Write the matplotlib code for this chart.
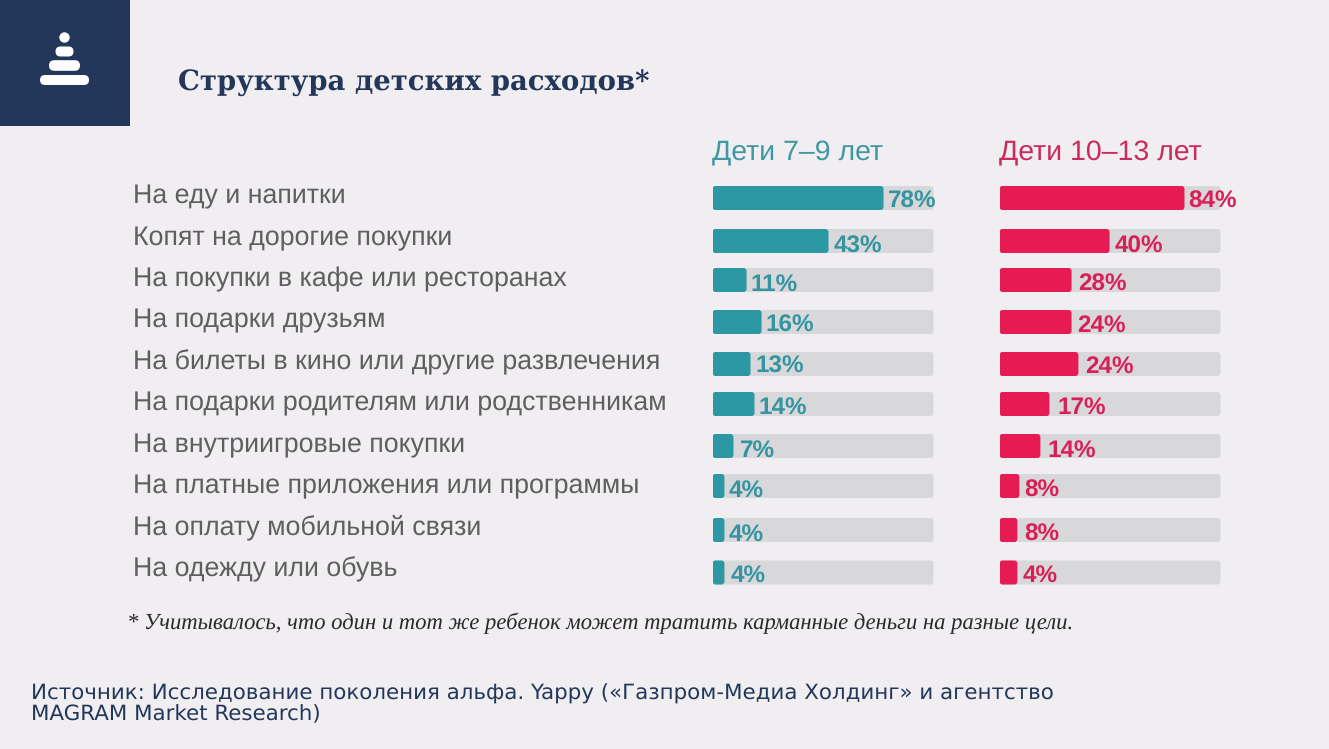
import matplotlib
matplotlib.use('Agg')
import matplotlib.pyplot as plt
from matplotlib.patches import FancyBboxPatch, Rectangle, Circle

plt.rcParams['text.hinting'] = 'no_hinting'

# Data
categories = ['На еду и напитки', 'Копят на дорогие покупки', 'На покупки в кафе или ресторанах',
              'На подарки друзьям', 'На билеты в кино или другие развлечения',
              'На подарки родителям или родственникам', 'На внутриигровые покупки',
              'На платные приложения или программы', 'На оплату мобильной связи', 'На одежду или обувь']
younger_labels = [78, 43, 11, 16, 13, 14, 7, 4, 4, 4]
older_labels = [84, 40, 28, 24, 24, 17, 14, 8, 8, 4]
# the drawn bars are not to scale with the labels, so their lengths (share of the grey track) are separate
younger_fill = [77.4, 52.5, 15.4, 22.2, 17.2, 19.0, 9.5, 5.4, 5.4, 5.4]
older_fill = [83.7, 49.8, 32.6, 32.6, 35.7, 22.6, 18.5, 9.0, 8.1, 8.1]

W, H = 1329, 749
BG = '#f0eef1'
NAVY = '#22375a'
TEAL = '#2b98a3'
RED = '#e61b54'
TRACK = '#d8d8da'
GREY = '#5f5f5f'

bar_y = [198, 241, 280, 322, 364, 404, 446, 486, 530, 572.5]
label_y = [196, 238, 279.5, 320.5, 362.5, 403.5, 445.5, 486.5, 527.5, 569.5]
value_y = [201.5, 246.5, 284.5, 326, 367, 408, 450.5, 490.5, 534.5, 576]
# pixel gaps between bar end and its label, they vary in the original slide
younger_gap = [4, 5, 4, 4, 5, 4, 6, 4, 4, 6]
older_gap = [4, 5, 7, 6, 7, 8, 7, 5, 7, 5]
BAR_H = 24

fig = plt.figure(figsize=(W / 100, H / 100), dpi=100, facecolor=BG)

# page axes in pixel coordinates for the header and text blocks
page = fig.add_axes([0, 0, 1, 1])
page.set_xlim(0, W)
page.set_ylim(H, 0)
page.axis('off')

page.add_patch(Rectangle((0, 0), 130, 126, color=NAVY, lw=0))
page.add_patch(Circle((64.5, 37.5), 5.2, color='white', lw=0))
for half, cy, t in [(9, 51.5, 5), (15.5, 65.5, 5.3), (24.5, 80, 5)]:
    page.add_patch(FancyBboxPatch((64.5 - half, cy - t), 2 * half, 2 * t,
                                  boxstyle=f'round,pad=0,rounding_size={t}', color='white', lw=0))

page.text(178, 83, 'Структура детских расходов*', family='DejaVu Serif', weight='bold',
          fontsize=19.8, color=NAVY, va='center')

for name, y in zip(categories, label_y):
    page.text(133, y, name, family='Liberation Sans', fontsize=19.3, color=GREY, va='center')

page.text(127, 623, '* Учитывалось, что один и тот же ребенок может тратить карманные деньги на разные цели.',
          family='Liberation Serif', style='italic', fontsize=16.3, color='#2a2a2a', va='center')
page.text(31, 694, 'Источник: Исследование поколения альфа. Yappy («Газпром-Медиа Холдинг» и агентство',
          family='DejaVu Sans', fontsize=15.36, color=NAVY, va='center')
page.text(31, 714, 'MAGRAM Market Research)', family='DejaVu Sans', fontsize=15.36, color=NAVY, va='center')


def draw_column(x0, title, labels, fill, gaps, color, text_color, title_color):
    # x runs 0-100 along the grey track, y stays in page pixels
    ax = fig.add_axes([x0 / W, 0, 221 / W, 1])
    ax.set_xlim(0, 100)
    ax.set_ylim(H, 0)
    ax.axis('off')
    ax.patch.set_alpha(0)
    scale = 221 / 100
    r = 3 / scale
    for y, lab, f, vy, gap in zip(bar_y, labels, fill, value_y, gaps):
        for length, c in [(100, TRACK), (f, color)]:
            ax.add_patch(FancyBboxPatch((r, y - BAR_H / 2 + r * scale), length - 2 * r, BAR_H - 2 * r * scale,
                                        boxstyle=f'round,pad={r},rounding_size={r}', mutation_aspect=scale,
                                        color=c, lw=0))
        ax.text(f + gap / scale, vy, f'{lab}%', family='Liberation Sans', weight='bold', fontsize=17.5,
                color=text_color, va='center', clip_on=False)
    ax.text(-0.2, 153, title, family='Liberation Sans', fontsize=20.5, color=title_color, va='center', clip_on=False)


draw_column(712.5, 'Дети 7–9 лет', younger_labels, younger_fill, younger_gap, TEAL, '#3494a0', '#3f98a2')
draw_column(999.5, 'Дети 10–13 лет', older_labels, older_fill, older_gap, RED, '#d91f58', '#cc2a5c')

fig.savefig('out.png', dpi=100, facecolor=BG)
